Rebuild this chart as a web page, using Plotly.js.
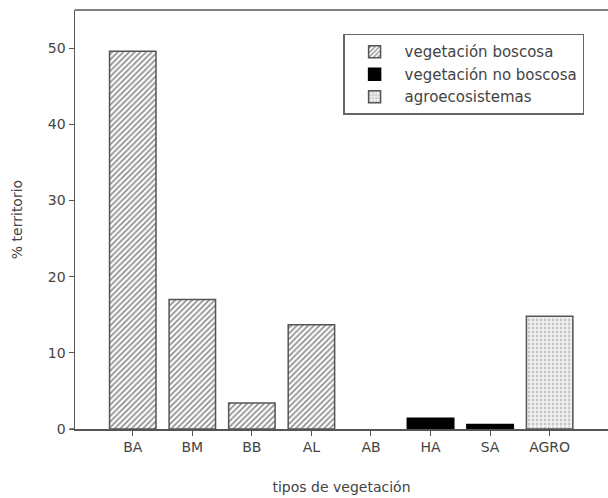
<!DOCTYPE html>
<html>
<head>
<meta charset="utf-8">
<script src="https://cdn.plot.ly/plotly-3.0.1.min.js"></script>
<style>html,body{margin:0;padding:0;background:#fff}#chart{width:608px;height:498px}</style>
</head>
<body>
<div id="chart"></div>
<script>
const categories = ["BA", "BM", "BB", "AL", "AB", "HA", "SA", "AGRO"];
const boscosaCats = ["BA", "BM", "BB", "AL", "AB"];
const boscosaVals = [49.6, 17.0, 3.4, 13.7, 0];
const noBoscosaCats = ["HA", "SA"];
const noBoscosaVals = [1.4, 0.6];
const agroCats = ["AGRO"];
const agroVals = [14.8];
const seriesNames = ["vegetación boscosa", "vegetación no boscosa", "agroecosistemas"];

const traces = [
  {type: "bar", name: seriesNames[0], x: boscosaCats, y: boscosaVals, width: 0.78,
   marker: {color: "white", line: {color: "#555", width: boscosaVals.map(v => v > 0 ? 1.5 : 0)},
            pattern: {shape: "/", fgcolor: "#222", bgcolor: "white", size: 4, solidity: 0.45, fillmode: "overlay"}}},
  {type: "bar", name: seriesNames[1], x: noBoscosaCats, y: noBoscosaVals, width: 0.78,
   marker: {color: "#000", line: {color: "#000", width: 1.5}}},
  {type: "bar", name: seriesNames[2], x: agroCats, y: agroVals, width: 0.78,
   marker: {color: "#eee", line: {color: "#555", width: 1.5},
            pattern: {shape: ".", fgcolor: "#999", bgcolor: "#f2f2f2", size: 4, solidity: 0.4, fillmode: "overlay"}}}
];

const layout = {
  width: 608, height: 498,
  margin: {l: 75, r: 0, t: 10, b: 69},
  paper_bgcolor: "white", plot_bgcolor: "white",
  font: {family: "DejaVu Sans, Verdana, sans-serif", size: 14, color: "#444"},
  barmode: "overlay",
  showlegend: true,
  xaxis: {
    type: "category", categoryorder: "array", categoryarray: categories,
    range: [-0.97, 7.98],
    showline: true, linecolor: "#555", linewidth: 1.5,
    ticks: "outside", ticklen: 5, tickcolor: "#555", tickwidth: 1,
    showgrid: false, zeroline: false,
    tickfont: {size: 14, color: "#444"},
    title: {text: "tipos de vegetación", font: {size: 14, color: "#444"}, standoff: 28}
  },
  yaxis: {
    range: [0, 55],
    tickvals: [0, 10, 20, 30, 40, 50],
    showline: true, linecolor: "#555", linewidth: 1.5, mirror: false,
    ticks: "outside", ticklen: 5, tickcolor: "#555", tickwidth: 1,
    showgrid: false, zeroline: false,
    tickfont: {size: 14, color: "#444"},
    title: {text: "% territorio", font: {size: 14, color: "#444"}, standoff: 22}
  },
  shapes: [
    {type: "line", xref: "paper", yref: "paper", x0: 0, x1: 1, y0: 1, y1: 1, line: {color: "#555", width: 1.5}},
    {type: "line", xref: "paper", yref: "paper", x0: -0.01, x1: 0, y0: 0, y1: 0, line: {color: "#555", width: 1.5}}
  ],
  legend: {
    x: 0.503, y: 0.943, xanchor: "left", yanchor: "top",
    bgcolor: "white", bordercolor: "#666", borderwidth: 1.5,
    font: {size: 15, color: "#444"},
    itemwidth: 50,
    traceorder: "normal"
  }
};

Plotly.newPlot("chart", traces, layout, {displayModeBar: false, staticPlot: true});
</script>
</body>
</html>
